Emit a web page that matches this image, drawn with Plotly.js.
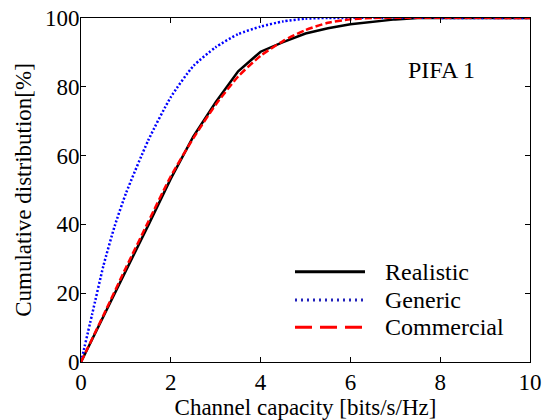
<!DOCTYPE html>
<html>
<head>
<meta charset="utf-8">
<script src="https://cdn.plot.ly/plotly-3.0.1.min.js"></script>
<style>html,body{margin:0;padding:0;background:#fff;}#chart{width:548px;height:420px;}</style>
</head>
<body>
<div id="chart"></div>
<script>
// Data
const realisticX = [0, 0.5, 1, 1.5, 2, 2.5, 3, 3.5, 4, 4.5, 5, 5.5, 6, 6.5, 7, 7.5, 8, 10];
const realisticY = [0, 13.2, 26.5, 39.8, 53.3, 65.5, 75.5, 84.5, 90.2, 93, 95.5, 97, 98.2, 99, 99.6, 100, 100, 100];

const genericX = [0, 0.25, 0.5, 0.75, 1, 1.5, 2, 2.5, 3, 3.5, 4, 4.5, 5, 5.5, 10];
const genericY = [0, 14, 28, 39.5, 49, 64.5, 77, 86, 91.5, 95.3, 97.5, 99, 99.8, 100, 100];

const commercialX = [0, 0.5, 1, 1.5, 2, 2.5, 3, 3.5, 4, 4.5, 5, 5.5, 6, 6.5, 10];
const commercialY = [0, 13.6, 27.4, 40.8, 54, 65, 74.8, 83, 89, 93.3, 96.5, 98.6, 99.6, 100, 100];

const seriesNames = ["Realistic", "Generic", "Commercial"];
const xTicks = [0, 2, 4, 6, 8, 10];
const yTicks = [0, 20, 40, 60, 80, 100];

const FONT = "'Liberation Serif', 'Times New Roman', Times, serif";

const traces = [
  {x: realisticX, y: realisticY, name: seriesNames[0], mode: "lines",
   line: {color: "#000000", width: 2.5}},
  {x: genericX, y: genericY, name: seriesNames[1], mode: "lines", line: {shape: "spline", smoothing: 0.6,
   color: "#0000ff", width: 2.5, dash: "2px,2px"}},
  {x: commercialX, y: commercialY, name: seriesNames[2], mode: "lines", line: {shape: "spline", smoothing: 0.6,
   color: "#ff0000", width: 2.5, dash: "7px,3px"}}
];

// manual legend (paper coords)
const legX0 = 0.4766, legX1 = 0.6325, legTextX = 0.6726;
const legY = [0.262, 0.180, 0.101];
const legStyles = [
  {color: "#000000", width: 3, dash: "solid"},
  {color: "#2222bb", width: 3, dash: "2px,4px"},
  {color: "#ff0000", width: 3, dash: "17px,8px"}
];
const shapes = legY.map((y, i) => ({type: "line", xref: "paper", yref: "paper",
  x0: legX0, x1: legX1, y0: y, y1: y, line: legStyles[i]}));
const annotations = legY.map((y, i) => ({xref: "paper", yref: "paper", x: legTextX, y: y,
  xanchor: "left", yanchor: "middle", showarrow: false, text: seriesNames[i],
  font: {family: FONT, size: 24, color: "#000"}}));
annotations.push({xref: "paper", yref: "paper", x: 0.804, y: 0.849, xanchor: "center", yanchor: "middle",
  showarrow: false, text: "PIFA 1", font: {family: FONT, size: 24, color: "#000"}});

const layout = {
  width: 548, height: 420,
  margin: {l: 81, r: 18, t: 18, b: 58},
  paper_bgcolor: "#fff", plot_bgcolor: "#fff",
  showlegend: false,
  font: {family: FONT, size: 22, color: "#000"},
  xaxis: {range: [0, 10], tickvals: xTicks, ticks: "inside", ticklen: 5, tickcolor: "#000",
    showline: true, linecolor: "#000", linewidth: 1, mirror: "ticks", showgrid: false, zeroline: false,
    tickfont: {family: FONT, size: 23}, ticklabelstandoff: -1,
    title: {text: "Channel capacity [bits/s/Hz]", font: {family: FONT, size: 23}, standoff: 2}},
  yaxis: {range: [0, 100], tickvals: yTicks, ticks: "inside", ticklen: 5, tickcolor: "#000",
    showline: true, linecolor: "#000", linewidth: 1, mirror: "ticks", showgrid: false, zeroline: false,
    tickfont: {family: FONT, size: 23}, ticklabelstandoff: -4,
    title: {text: "Cumulative distribution[%]", font: {family: FONT, size: 23}, standoff: 6}},
  shapes: shapes,
  annotations: annotations
};

Plotly.newPlot("chart", traces, layout, {displayModeBar: false, staticPlot: true});
</script>
</body>
</html>
